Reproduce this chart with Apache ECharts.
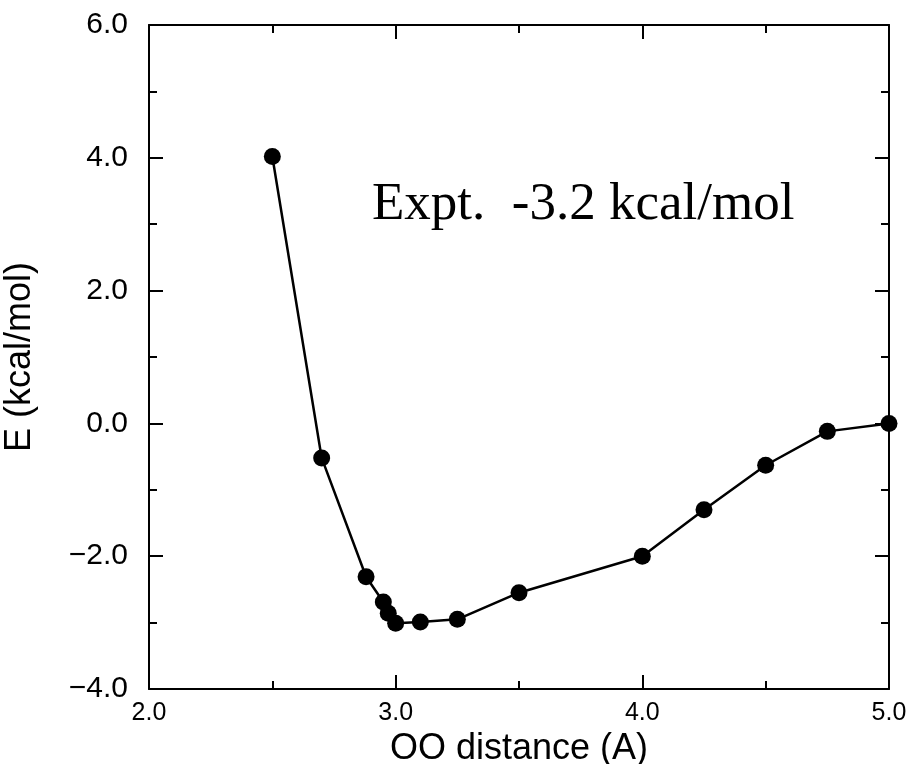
<!DOCTYPE html>
<html>
<head>
<meta charset="utf-8">
<script src="https://cdn.jsdelivr.net/npm/echarts@6/dist/echarts.min.js"></script>
<style>
  html, body { margin: 0; padding: 0; background: #fff; }
  #chart { width: 910px; height: 764px; }
</style>
</head>
<body>
<div id="chart"></div>
<script>
// O–O separation (Å) and interaction energy (kcal/mol)
const ooDistance = [2.5, 2.7, 2.88, 2.95, 2.97, 3.0, 3.1, 3.25, 3.5, 4.0, 4.25, 4.5, 4.75, 5.0];
const energy = [4.02, -0.52, -2.31, -2.69, -2.86, -3.01, -2.99, -2.95, -2.55, -2.0, -1.30, -0.63, -0.12, 0.0];

const xTicks = [2.0, 3.0, 4.0, 5.0];
const yTicks = [-4.0, -2.0, 0.0, 2.0, 4.0, 6.0];
const xTitle = 'OO distance (A)';
const yTitle = 'E (kcal/mol)';
const noteText = 'Expt.  -3.2 kcal/mol';

const fmt = v => v.toFixed(1).replace('-', '\u2212');

const frameLine = { lineStyle: { color: '#000', width: 2 } };
const majorTick = { show: true, inside: true, length: 14, lineStyle: { color: '#000', width: 2 } };
const minorTick = { show: true, splitNumber: 2, length: 8, lineStyle: { color: '#000', width: 2 } };

const xBase = {
  type: 'value',
  min: xTicks[0],
  max: xTicks[xTicks.length - 1],
  interval: 1,
  axisLine: Object.assign({ show: true, onZero: false }, frameLine),
  axisTick: majorTick,
  minorTick: minorTick,
  splitLine: { show: false }
};
const yBase = {
  type: 'value',
  min: yTicks[0],
  max: yTicks[yTicks.length - 1],
  interval: 2,
  axisLine: Object.assign({ show: true, onZero: false }, frameLine),
  axisTick: majorTick,
  minorTick: minorTick,
  splitLine: { show: false }
};

const chart = echarts.init(document.getElementById('chart'), null, { renderer: 'canvas' });
chart.setOption({
  backgroundColor: '#fff',
  animation: false,
  grid: { left: 149, right: 21, top: 25, bottom: 75, containLabel: false, outerBoundsMode: 'none' },
  xAxis: [
    Object.assign({}, xBase, {
      position: 'bottom',
      name: xTitle,
      nameLocation: 'middle',
      nameGap: 36,
      nameTextStyle: { fontFamily: 'Liberation Sans', fontSize: 36, color: '#000' },
      axisLabel: { show: true, margin: 12, fontFamily: 'Liberation Sans', fontSize: 25, color: '#000', formatter: fmt }
    }),
    Object.assign({}, xBase, { position: 'top', axisLabel: { show: false } })
  ],
  yAxis: [
    Object.assign({}, yBase, {
      position: 'left',
      name: yTitle,
      nameLocation: 'middle',
      nameGap: 111,
      nameRotate: 90,
      nameTextStyle: { fontFamily: 'Liberation Sans', fontSize: 36, color: '#000' },
      axisLabel: { show: true, margin: 21, fontFamily: 'Liberation Sans', fontSize: 30, color: '#000', formatter: fmt }
    }),
    Object.assign({}, yBase, { position: 'right', axisLabel: { show: false } })
  ],
  series: [{
    type: 'line',
    xAxisIndex: 0,
    yAxisIndex: 0,
    data: ooDistance.map((x, i) => [x, energy[i]]),
    symbol: 'circle',
    symbolSize: 17,
    clip: false,
    lineStyle: { color: '#000', width: 2.5 },
    itemStyle: { color: '#000' }
  }],
  graphic: [{
    type: 'text',
    left: 372,
    top: 179,
    style: {
      text: noteText,
      fontFamily: 'Liberation Serif',
      fontSize: 53,
      fill: '#000'
    }
  }]
});
</script>
</body>
</html>
